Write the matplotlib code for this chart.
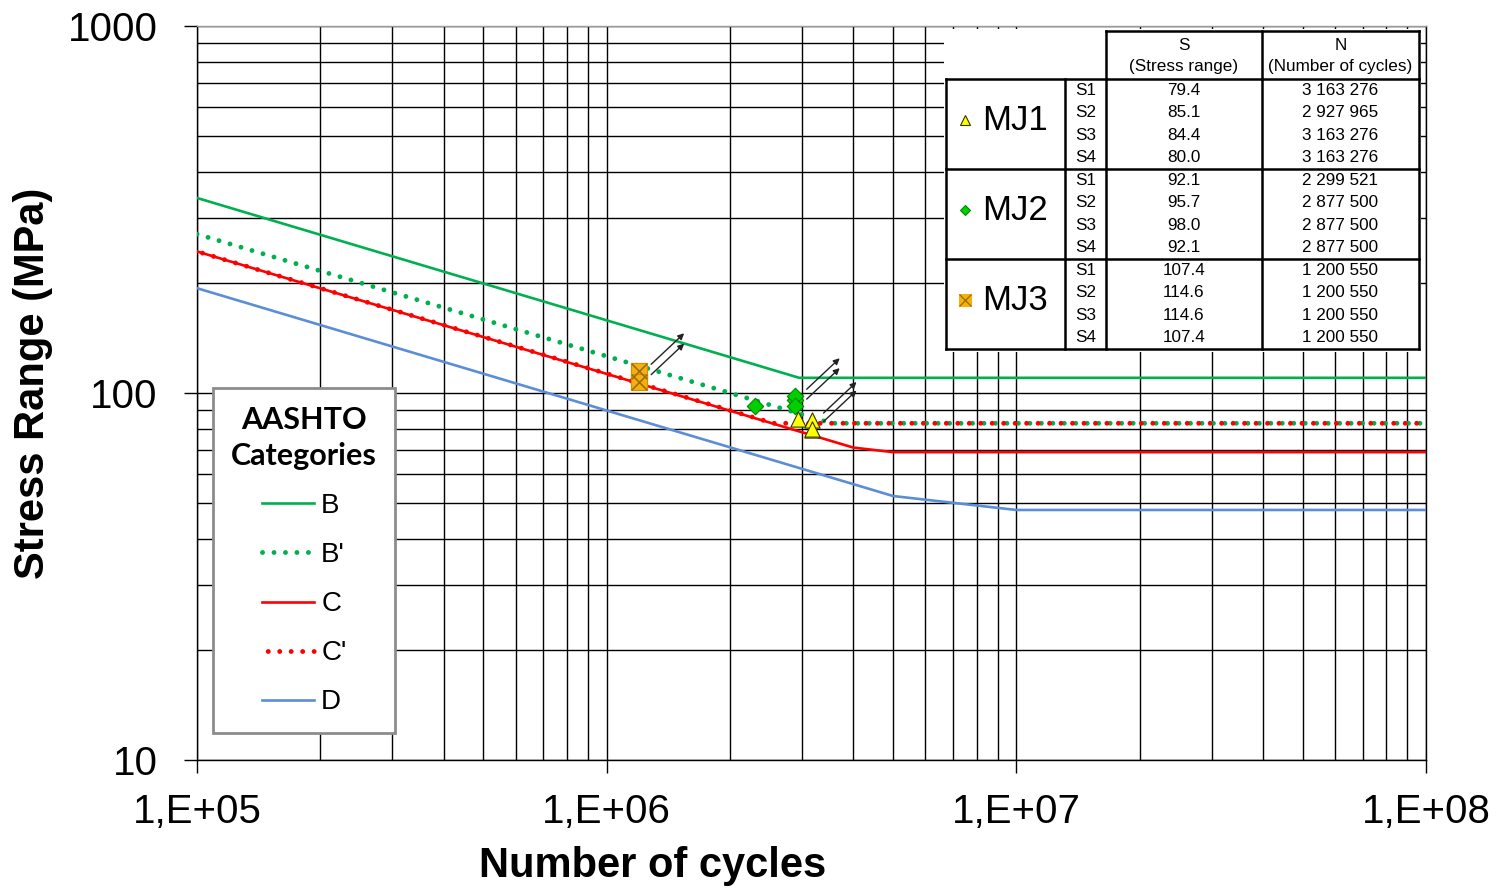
import matplotlib
matplotlib.use("Agg")
import matplotlib.pyplot as plt
from matplotlib.ticker import FixedLocator, FixedFormatter, LogLocator, NullFormatter
from matplotlib.transforms import offset_copy
from matplotlib.font_manager import FontProperties
from matplotlib.patches import Rectangle

plt.rcParams['font.family'] = ['Liberation Sans', 'DejaVu Sans']

# ===========================
# AASHTO S-N curves (N cycles, S MPa)
# ===========================
B_N = [1e5, 2.95e6, 1e8]
B_S = [340, 110, 110]
Bp_N = [1e5, 3.54e6, 1e8]
Bp_S = [271, 82.7, 82.7]
C_N = [1e5, 4.0e6, 5.0e6, 1e8]
C_S = [243, 71, 69, 69]
Cp_N = [1e5, 2.55e6, 1e8]
Cp_S = [243, 82.7, 82.7]
D_N = [1e5, 5e6, 1e7, 1e8]
D_S = [193, 52.4, 48, 48]

# ===========================
# Test results
# ===========================
specimens = ["S1", "S2", "S3", "S4"]
MJ1_S = [79.4, 85.1, 84.4, 80.0]
MJ1_N = [3163276, 2927965, 3163276, 3163276]
MJ2_S = [92.1, 95.7, 98.0, 92.1]
MJ2_N = [2299521, 2877500, 2877500, 2877500]
MJ3_S = [107.4, 114.6, 114.6, 107.4]
MJ3_N = [1200550, 1200550, 1200550, 1200550]

# run-outs marked with arrows (group, specimen index)
runouts = [("MJ3", 1), ("MJ3", 0), ("MJ2", 2), ("MJ2", 3), ("MJ1", 2), ("MJ1", 3)]

x_ticks = [1e5, 1e6, 1e7, 1e8]
x_labels = ["1,E+05", "1,E+06", "1,E+07", "1,E+08"]
y_ticks = [10, 100, 1000]
y_labels = ["10", "100", "1000"]

W, H = 1501, 889
fig = plt.figure(figsize=(W / 100, H / 100), dpi=100)
ax = fig.add_axes([197 / W, (H - 760) / H, 1229 / W, 734 / H])
ax.set_xscale("log")
ax.set_yscale("log")
ax.set_xlim(1e5, 1e8)
ax.set_ylim(10, 1000)

green = "#00B050"
red = "#FF0000"
blue = "#5B8ED6"

ax.plot(B_N, B_S, color=green, lw=1.9, label="B", zorder=3)
ax.plot(Bp_N, Bp_S, color=green, lw=3.5, ls=(0, (0.01, 2.35)), dash_capstyle="round", label="B'", zorder=3)
ax.plot(C_N, C_S, color=red, lw=1.9, label="C", zorder=3)
ax.plot(Cp_N, Cp_S, color=red, lw=3.5, ls=(1.18, (0.01, 2.35)), dash_capstyle="round", label="C'", zorder=3)
ax.plot(D_N, D_S, color=blue, lw=1.9, label="D", zorder=3)

ax.scatter(MJ3_N, MJ3_S, marker="s", s=130, color="#F2B011", edgecolor="#D08E00", lw=0.8, zorder=5)
ax.scatter(MJ3_N, MJ3_S, marker="x", s=120, color="#A06A00", lw=0.9, zorder=6)
ax.scatter(MJ2_N, MJ2_S, marker="D", s=70, color="#00D000", edgecolor="#008800", lw=0.8, zorder=5)
ax.scatter(MJ1_N, MJ1_S, marker="^", s=120, color="#FFFF00", edgecolor="#333300", lw=0.8, zorder=5)

groups = {"MJ1": (MJ1_N, MJ1_S), "MJ2": (MJ2_N, MJ2_S), "MJ3": (MJ3_N, MJ3_S)}
head = offset_copy(ax.transData, fig=fig, x=45, y=38, units="dots")
for g, i in runouts:
    n, s = groups[g][0][i], groups[g][1][i]
    ax.annotate("", xy=(n, s), xycoords=head, xytext=(-33, -31), textcoords="offset pixels",
                arrowprops=dict(arrowstyle="-|>", color="#222222", lw=1.0, mutation_scale=9,
                                shrinkA=0, shrinkB=0), zorder=7)

# axes, grid, ticks
ax.xaxis.set_major_locator(FixedLocator(x_ticks))
ax.xaxis.set_major_formatter(FixedFormatter(x_labels))
ax.yaxis.set_major_locator(FixedLocator(y_ticks))
ax.yaxis.set_major_formatter(FixedFormatter(y_labels))
ax.xaxis.set_minor_locator(LogLocator(base=10, subs=range(2, 10)))
ax.yaxis.set_minor_locator(LogLocator(base=10, subs=range(2, 10)))
ax.xaxis.set_minor_formatter(NullFormatter())
ax.yaxis.set_minor_formatter(NullFormatter())
ax.grid(which="both", color="black", lw=1.0)
ax.set_axisbelow(True)
ax.tick_params(which="major", length=9.5, width=1.0, color="black", labelsize=29, direction="out")
ax.tick_params(axis="y", which="major", pad=19)
ax.tick_params(axis="x", which="major", pad=14)
ax.tick_params(which="minor", length=0)
for sp in ax.spines.values():
    sp.set_color("black")
    sp.set_linewidth(1.0)
ax.spines["top"].set_color("#999999")

ax.set_xlabel("Number of cycles", fontsize=30, fontweight="bold", va="center")
ax.xaxis.set_label_coords((653 - 197) / 1229, (760 - 866) / 734)
ax.set_ylabel("Stress Range (MPa)", fontsize=30, fontweight="bold", va="center")
ax.yaxis.set_label_coords((33 - 197) / 1229, (760 - 383) / 734)

# legend
leg = ax.legend(title="AASHTO\nCategories", loc="upper left", bbox_to_anchor=((213 - 197) / 1229, (760 - 388) / 734),
                borderaxespad=0, fontsize=20, handlelength=1.9, handletextpad=0.25, labelspacing=0.83,
                borderpad=0.65, alignment="center", fancybox=False, framealpha=1,
                title_fontproperties=FontProperties(family="Lato", weight="bold", size=22))
leg.get_frame().set_edgecolor("#8C8C8C")
leg.get_frame().set_linewidth(2.0)
leg.get_title().set_linespacing(1.35)
leg.get_title().set_multialignment("center")
leg.set_zorder(10)

# ===========================
# Results table (pixel coords inside its own axes)
# ===========================
tx0, tx1, ty0, ty1 = 944, 1421, 29, 352
tab = fig.add_axes([tx0 / W, (H - ty1) / H, (tx1 - tx0) / W, (ty1 - ty0) / H], zorder=20)
tab.set_xlim(tx0, tx1)
tab.set_ylim(ty1, ty0)
tab.axis("off")
tab.add_patch(Rectangle((tx0, ty0), tx1 - tx0, ty1 - ty0, color="white", zorder=0))

cols = [946, 1065, 1106, 1262, 1419]
rows = [31, 79, 169, 259, 349]
lw_t = 1.8
kw = dict(color="black", lw=lw_t, solid_capstyle="projecting")
# header box
tab.plot([cols[2], cols[4]], [rows[0], rows[0]], **kw)
for c in cols[2:]:
    tab.plot([c, c], [rows[0], rows[1]], **kw)
for r in rows[1:]:
    tab.plot([cols[0], cols[4]], [r, r], **kw)
for c in cols:
    tab.plot([c, c], [rows[1], rows[4]], **kw)

fs = 12.3
tab.text((cols[2] + cols[3]) / 2, 46, "S", ha="center", va="center", fontsize=fs)
tab.text((cols[2] + cols[3]) / 2, 67, "(Stress range)", ha="center", va="center", fontsize=fs)
tab.text((cols[3] + cols[4]) / 2, 46, "N", ha="center", va="center", fontsize=fs)
tab.text((cols[3] + cols[4]) / 2, 67, "(Number of cycles)", ha="center", va="center", fontsize=fs)

group_names = ["MJ1", "MJ2", "MJ3"]
group_markers = [dict(marker="^", ms=7, mfc="#FFFF00", mec="#333300", mew=0.8),
                 dict(marker="D", ms=5.5, mfc="#00D000", mec="#008800", mew=0.8),
                 dict(marker="s", ms=8, mfc="#F2B011", mec="#F2B011", mew=0.8)]
for k, g in enumerate(group_names):
    top = rows[k + 1]
    sub = (rows[k + 2] - top) / 4
    yc = top + 2 * sub - 4
    tab.plot([965], [yc], ls="none", **group_markers[k])
    if g == "MJ3":
        tab.plot([965], [yc], ls="none", marker="x", ms=8, mec="#A06A00", mew=0.9)
    tab.text(982, yc, g, ha="left", va="center", fontsize=25)
    Ns, Ss = groups[g]
    for j in range(4):
        yy = top + sub * (j + 0.5)
        tab.text((cols[1] + cols[2]) / 2, yy, specimens[j], ha="center", va="center", fontsize=fs)
        tab.text((cols[2] + cols[3]) / 2, yy, f"{Ss[j]:.1f}", ha="center", va="center", fontsize=fs)
        tab.text((cols[3] + cols[4]) / 2, yy, f"{Ns[j]:,}".replace(",", " "), ha="center", va="center",
                 fontsize=fs)

fig.savefig("out.png", dpi=100)
